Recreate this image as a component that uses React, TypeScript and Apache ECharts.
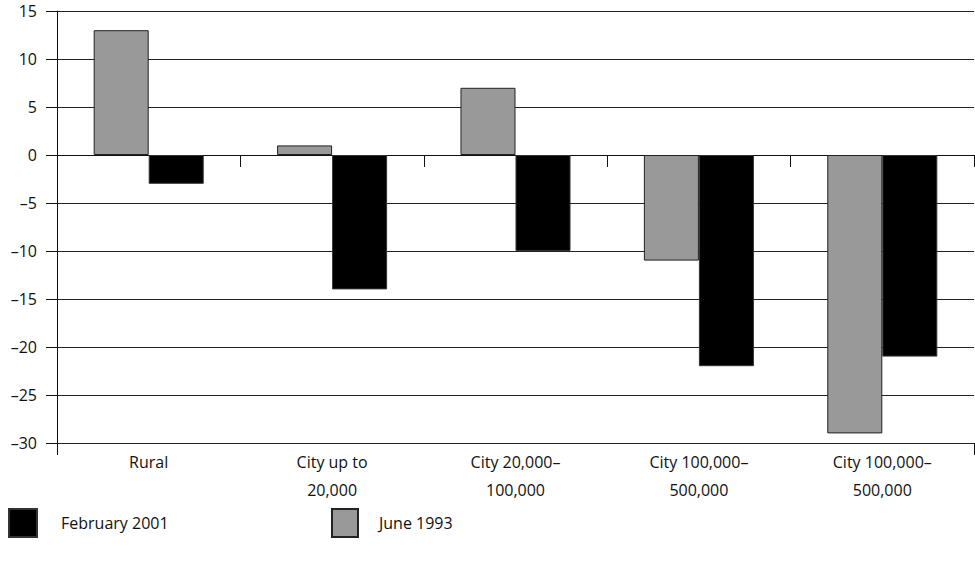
import React, { useEffect, useRef } from "react";
import * as echarts from "echarts";

const categories = [
  "Rural",
  "City up to\n20,000",
  "City 20,000–\n100,000",
  "City 100,000–\n500,000",
  "City 100,000–\n500,000",
];
const june1993 = [13, 1, 7, -11, -29];
const feb2001 = [-3, -14, -10, -22, -21];
const yTicks = { min: -30, max: 15, interval: 5 };
const FONT = "Open Sans";

export default function App() {
  const ref = useRef<HTMLDivElement>(null);
  useEffect(() => {
    document.body.style.margin = "0";
    if (!ref.current) return;
    const chart = echarts.init(ref.current, null, { renderer: "svg" });
    chart.setOption({
      animation: false,
      textStyle: { fontFamily: FONT },
      grid: {
        left: 57,
        right: 1,
        top: 11,
        bottom: 123,
        containLabel: false,
        outerBoundsMode: "none",
      },
      legend: [
        {
          data: ["February 2001"],
          icon: "rect",
          left: 8,
          top: 508,
          padding: 0,
          itemWidth: 28,
          itemHeight: 28,
          textStyle: { fontFamily: FONT, fontSize: 16, color: "#111", padding: [0, 0, 0, 19] },
        },
        {
          data: ["June 1993"],
          icon: "rect",
          left: 331,
          top: 508,
          padding: 0,
          itemWidth: 26,
          itemHeight: 28,
          textStyle: { fontFamily: FONT, fontSize: 16, color: "#111", padding: [0, 0, 0, 16] },
        },
      ],
      xAxis: [
        {
          type: "category",
          data: categories,
          position: "bottom",
          axisLine: { show: false, onZero: false },
          axisTick: {
            show: true,
            length: 12,
            interval: (i: number) => i === 0,
            lineStyle: { color: "#111" },
          },
          axisLabel: {
            margin: 5,
            fontFamily: FONT,
            fontSize: 16,
            color: "#111",
            lineHeight: 28,
          },
        },
        {
          type: "category",
          data: categories,
          position: "bottom",
          axisLine: { show: true, onZero: true, lineStyle: { color: "#111" } },
          axisTick: { show: true, length: 12, lineStyle: { color: "#111" } },
          axisLabel: { show: false },
        },
      ],
      yAxis: {
        type: "value",
        min: yTicks.min,
        max: yTicks.max,
        interval: yTicks.interval,
        axisLine: { show: true, lineStyle: { color: "#111" } },
        axisTick: { show: true, length: 11, lineStyle: { color: "#111" } },
        splitLine: { show: true, lineStyle: { color: "#222", width: 1 } },
        axisLabel: {
          margin: 20,
          fontFamily: FONT,
          fontSize: 16,
          color: "#111",
          formatter: (v: number) => (v < 0 ? "–" + Math.abs(v) : String(v)),
        },
      },
      series: [
        {
          name: "June 1993",
          type: "bar",
          data: june1993,
          barGap: "0%",
          barCategoryGap: "40%",
          itemStyle: { color: "#999999", borderColor: "#222", borderWidth: 1 },
        },
        {
          name: "February 2001",
          type: "bar",
          data: feb2001,
          barGap: "0%",
          barCategoryGap: "40%",
          itemStyle: { color: "#000000", borderColor: "#333", borderWidth: 1 },
        },
      ],
    });
    return () => chart.dispose();
  }, []);
  return <div ref={ref} style={{ width: 975, height: 566 }} />;
}
